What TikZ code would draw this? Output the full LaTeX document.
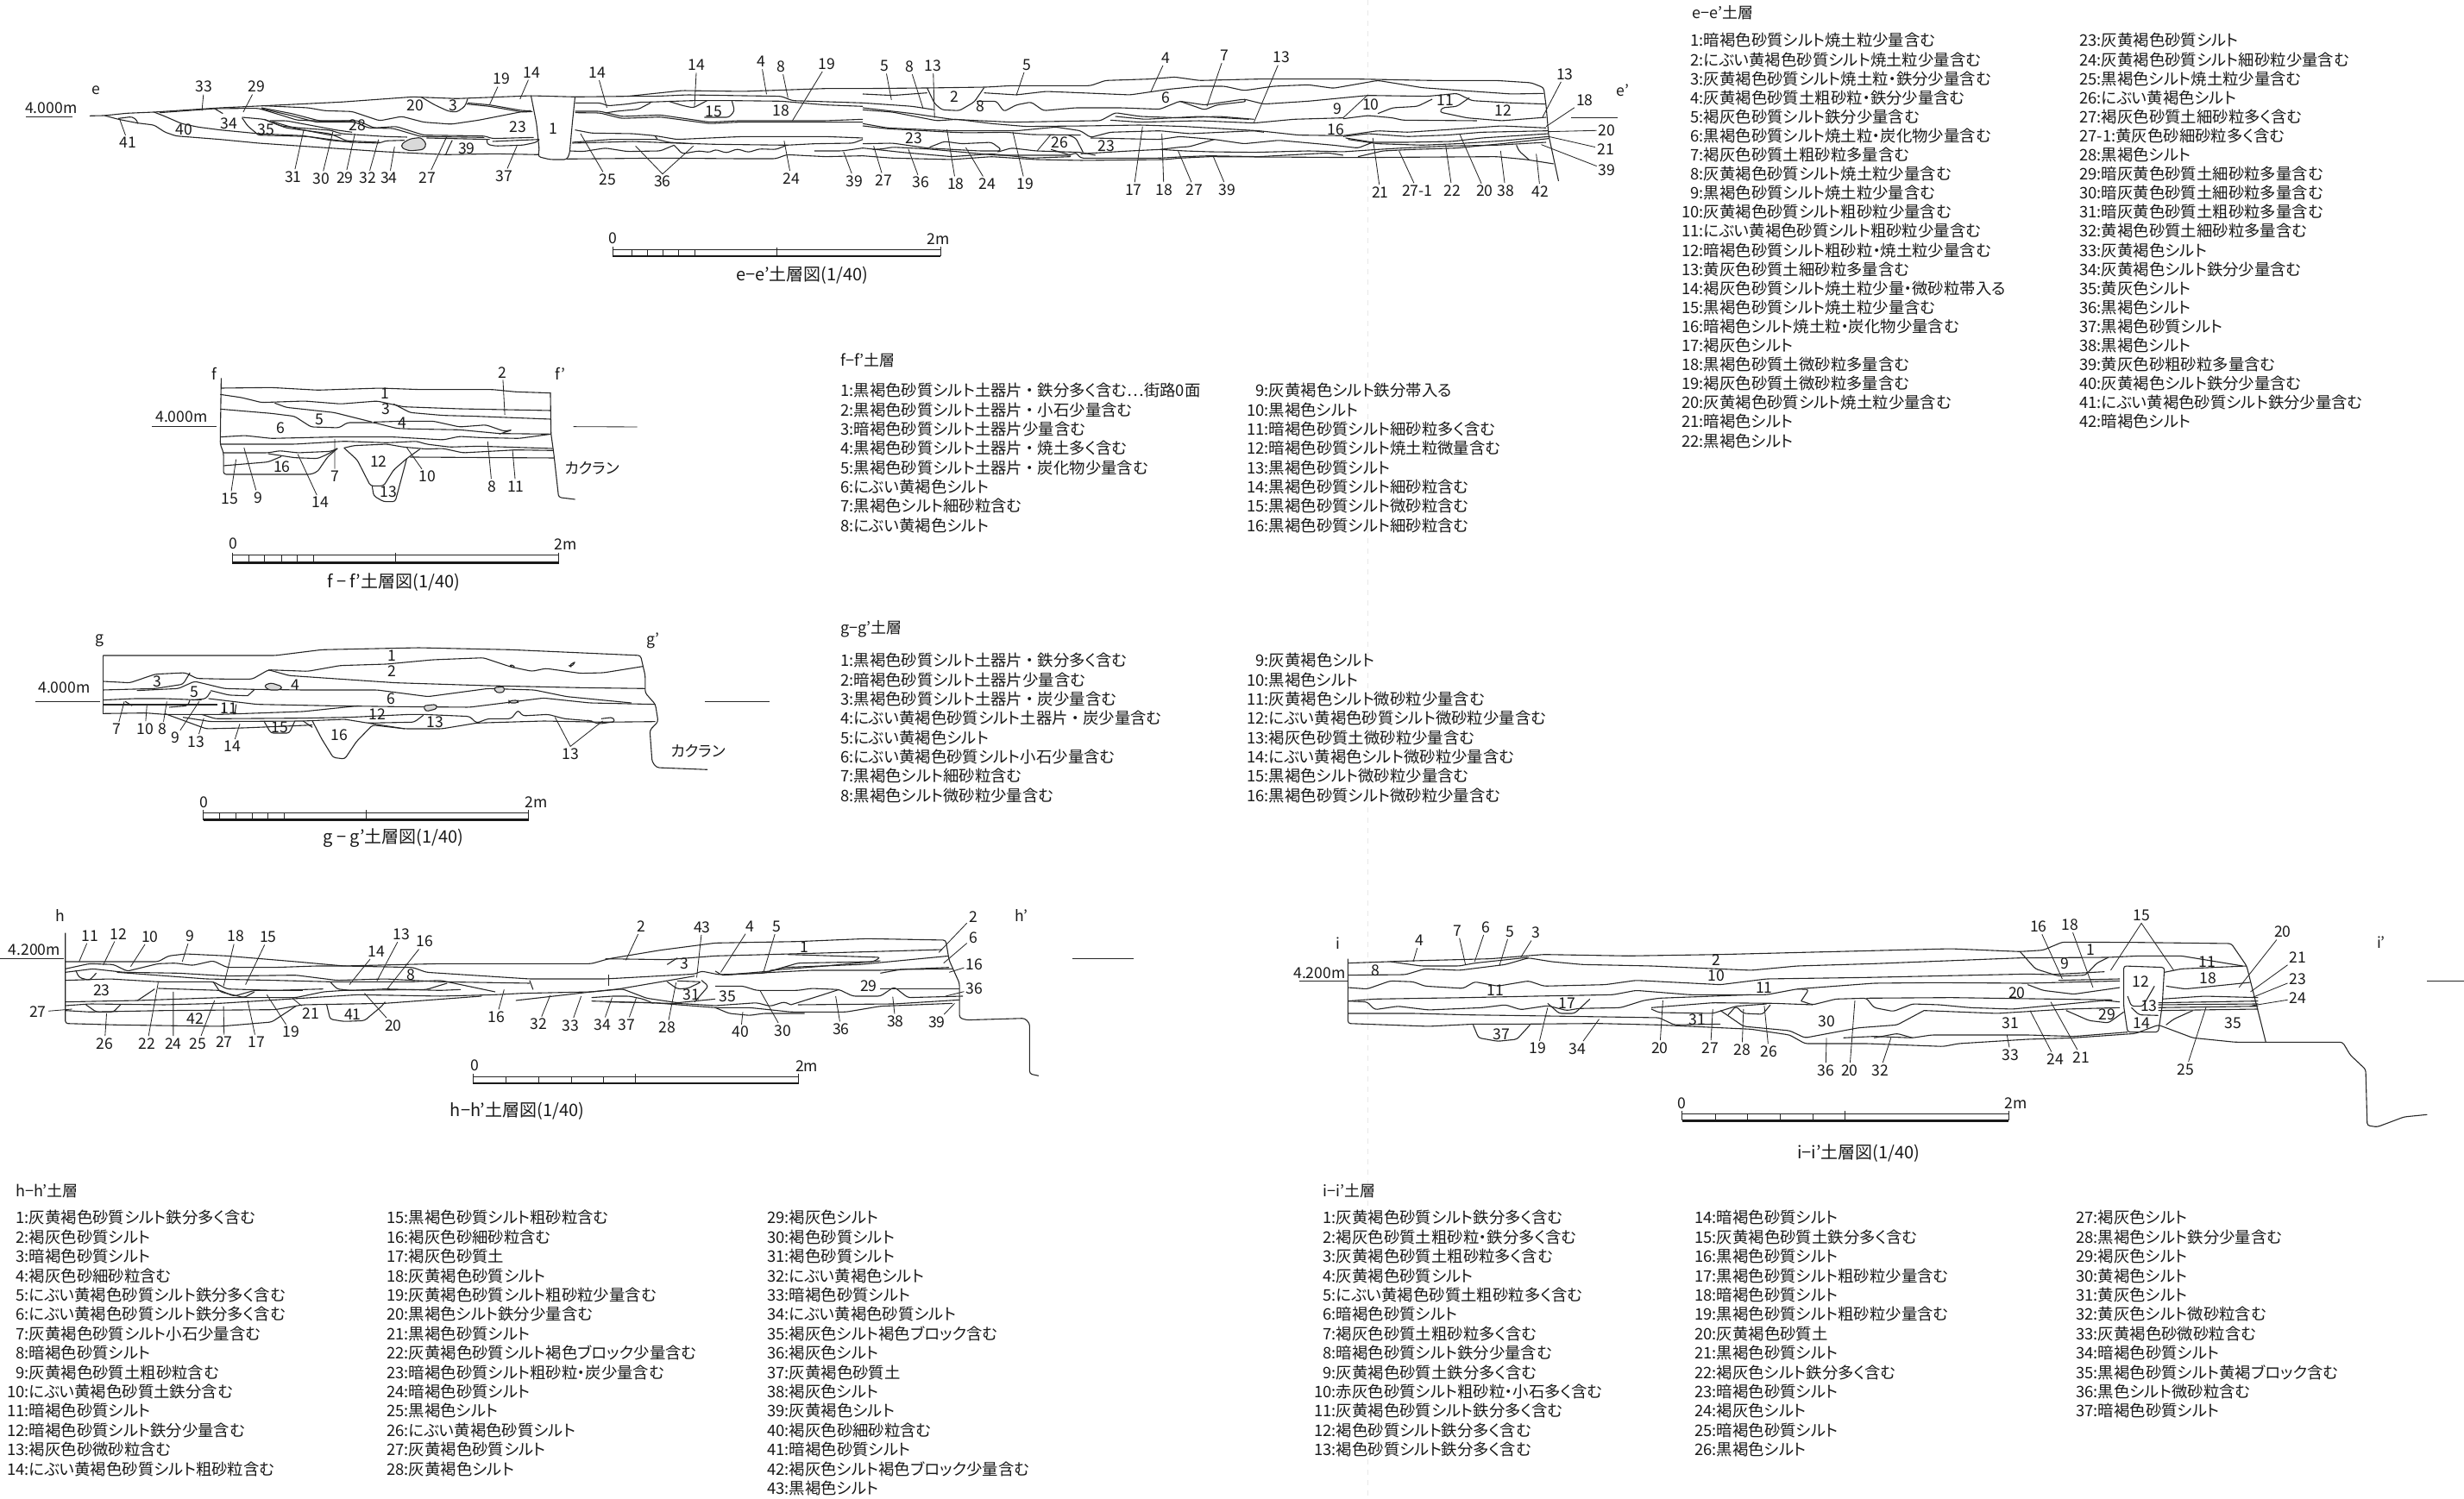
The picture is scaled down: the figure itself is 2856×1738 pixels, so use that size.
\documentclass[tikz,border=0pt]{standalone}
\usepackage{fontspec}
\setmainfont[RawFeature={+palt}]{Noto Sans CJK JP}
\newcommand{\pz}{\phantom{0}}
\begin{document}
\begin{tikzpicture}[x=0.5pt,y=-0.5pt]
      \tikzstyle{soil} = [line width=0.55pt, black!85, rounded corners=1.5pt, line join=round]
      \tikzstyle{leader} = [line width=0.42pt, black!85]
      \tikzstyle{rock} = [soil, fill=gray!30]
      \tikzstyle{num} = [font=\fontsize{8.8}{10}\selectfont, inner sep=1pt, black!90]
      \tikzstyle{heading} = [font=\fontsize{9}{11}\selectfont, inner sep=0pt, anchor=west, black!90]
      \tikzstyle{caption} = [font=\fontsize{10}{12}\selectfont, inner sep=0pt, black!90]
      \tikzstyle{layerlist} = [anchor=north west, inner sep=0pt, align=left, black!90]
      \tikzstyle{elegend} = [layerlist, font=\fontsize{9.2}{11.05}\selectfont]
      \tikzstyle{flegend} = [layerlist, font=\fontsize{9.2}{11.15}\selectfont]
      \tikzstyle{hlegend} = [layerlist, font=\fontsize{9.2}{11.2}\selectfont]
      \tikzstyle{scalethin} = [line width=0.45pt, black!85]
      \tikzstyle{scalethick} = [line width=1.3pt, black!90]
      \tikzstyle{fold} = [line width=0.4pt, gray!18, dashed]
      % coordinates below are read off at a different scale per drawing
      \tikzstyle{eleft} = [shift={(0,60)}, xscale=0.6378, yscale=0.3333]
      \tikzstyle{eright} = [shift={(1000,40)}, xscale=0.574, yscale=0.3333]
      \tikzstyle{fsec} = [shift={(150,400)}, xscale=0.3827, yscale=0.3333]
      \tikzstyle{gsec} = [shift={(30,710)}, xscale=0.5357, yscale=0.3333]
      \tikzstyle{hsec} = [shift={(0,1040)}, xscale=0.7972, yscale=0.3333]
      \tikzstyle{isec} = [shift={(1460,1040)}, xscale=0.8903, yscale=0.3333]

      \useasboundingbox (0,0) rectangle (2856,1738);
      \draw[fold] (1585,0) -- (1585,1738);

      % e-e' left
      \begin{scope}[eleft]
      \draw[soil] (163,223) -- (190,222) -- (230,214) -- (280,210) -- (400,195) -- (480,188) -- (620,175) -- (750,157) -- (830,163) -- (965,153) -- (1045,157) -- (1140,155) -- (1240,135) -- (1350,138) -- (1500,128) -- (1568,128);
      \draw[soil] (190,222) -- (215,235) -- (250,248) -- (280,255) -- (300,280) -- (320,293) -- (400,305) -- (470,318) -- (600,335) -- (700,348) -- (810,358) -- (900,355) -- (980,358);
      \draw[soil] (215,232) -- (240,226) -- (250,240) -- (250,248);
      \draw[soil] (280,210) -- (300,225) -- (330,250) -- (360,262) -- (400,272) -- (470,285) -- (550,292) -- (600,308) -- (640,315) -- (690,318) -- (700,310) -- (735,308);
      \draw[soil] (390,198) -- (405,215);
      \draw[soil] (290,212) -- (390,198) -- (440,197) -- (470,197) -- (510,220) -- (540,238) -- (600,242) -- (640,240);
      \draw[soil] (480,188) -- (560,195) -- (590,205) -- (640,208) -- (690,240) -- (730,225) -- (770,245) -- (820,252) -- (870,238) -- (950,208) -- (965,205);
      \draw[soil] (475,195) -- (530,215) -- (580,240) -- (650,240) -- (680,265) -- (720,260) -- (770,290) -- (880,293) -- (895,302) -- (970,298);
      \draw[soil] (475,198) -- (525,220) -- (575,245) -- (645,245) -- (670,265) -- (715,267) -- (765,295) -- (880,298);
      \draw[soil] (440,228) -- (480,235) -- (510,258) -- (545,265) -- (600,273) -- (620,285) -- (700,295) -- (740,297);
      \draw[soil] (490,240) -- (520,240) -- (610,272) -- (640,280);
      \draw[soil] (440,230) -- (450,258) -- (470,290);
      \draw[soil] (470,290) -- (560,295) -- (640,315);
      \draw[soil] (495,243) -- (540,268) -- (600,290) -- (620,290);
      \draw[soil] (480,235) -- (520,265) -- (600,285) -- (630,310) -- (690,315);
      \draw[rock] (730,320) -- (745,303) -- (765,298) -- (775,320) -- (770,340) -- (745,345) -- (730,335) -- cycle;
      \draw[soil] (775,300) -- (890,305);
      \draw[soil] (885,305) -- (885,322) -- (900,328) -- (950,325) -- (975,315) -- (980,305);
      \draw[soil] (895,312) -- (980,305);
      \draw[soil] (822,308) -- (815,335) -- (810,358);
      \draw[soil] (765,157) -- (790,185) -- (815,207) -- (830,210) -- (845,190) -- (850,163);
      \draw[soil] (850,178) -- (890,185) -- (950,205) -- (965,205);
      \draw[soil] (848,182) -- (890,190) -- (950,210) -- (968,208);
      \draw[soil] (965,153) -- (975,250) -- (980,340) -- (978,365) -- (1000,375) -- (1030,375) -- (1035,355) -- (1040,250) -- (1045,157);
      \draw[soil] (1045,178) -- (1090,178) -- (1105,188) -- (1140,182) -- (1165,175) -- (1185,175) -- (1160,200) -- (1120,207) -- (1100,213);
      \draw[soil] (1140,155) -- (1190,155) -- (1250,150) -- (1420,155) -- (1440,170) -- (1568,178);
      \draw[soil] (1180,175) -- (1260,170) -- (1330,170) -- (1420,172) -- (1500,185) -- (1568,190);
      \draw[soil] (1215,172) -- (1240,187) -- (1260,195) -- (1285,170);
      \draw[soil] (1330,170) -- (1335,205) -- (1325,228) -- (1280,228);
      \draw[soil] (1045,207) -- (1090,207) -- (1130,225) -- (1200,220) -- (1290,245) -- (1340,240) -- (1400,240) -- (1500,240) -- (1568,235);
      \draw[soil] (1045,212) -- (1090,213) -- (1130,232) -- (1200,227) -- (1290,250) -- (1340,245) -- (1440,245) -- (1568,245);
      \draw[soil] (1045,272) -- (1075,283) -- (1150,285) -- (1190,292) -- (1230,305) -- (1350,295) -- (1500,295) -- (1568,300);
      \draw[soil] (1040,318) -- (1150,312) -- (1230,318) -- (1300,322) -- (1430,325) -- (1480,320) -- (1550,318) -- (1568,305);
      \draw[soil] (1040,315) -- (1110,305) -- (1195,305) -- (1215,315) -- (1260,320);
      \draw[soil] (1190,292) -- (1195,305);
      \draw[soil] (1035,345) -- (1060,347) -- (1100,335) -- (1140,347) -- (1200,345) -- (1225,325);
      \draw[soil] (1225,325) -- (1240,355) -- (1270,345) -- (1290,350) -- (1300,340) -- (1320,352) -- (1340,338) -- (1360,350) -- (1380,338) -- (1410,340) -- (1430,325);
      \draw[soil] (1480,345) -- (1530,345) -- (1568,335);
      \draw[soil] (1030,373) -- (1200,370) -- (1340,372) -- (1410,372) -- (1430,358) -- (1500,365) -- (1568,362);

      \node[num] (ee) at (175,135) {e};
      \node[num] (e4000) at (93,195) {4.000m};
      \draw[leader] (47,227) -- (132,227);
      \node[num] (e20) at (755,187) {20};
      \node[num] (e3) at (823,187) {3};
      \node[num] (e28) at (650,255) {28};
      \node[num] (e34a) at (416,250) {34};
      \node[num] (e35) at (483,270) {35};
      \node[num] (e40) at (335,272) {40};
      \node[num] (e23a) at (941,263) {23};
      \node[num] (e1) at (1005,268) {1};
      \node[num] (e15) at (1297,207) {15};
      \node[num] (e18a) at (1420,205) {18};
      \node[num] (e39a) at (848,338) {39};
      \node[num] (e33) at (371,122) {33}; \draw[leader] (e33) -- (367,205);
      \node[num] (e29a) at (466,122) {29}; \draw[leader] (e29a) -- (442,210);
      \node[num] (e19a) at (911,95) {19}; \draw[leader] (e19a) -- (890,183);
      \node[num] (e14a) at (966,72) {14}; \draw[leader] (e14a) -- (945,165);
      \node[num] (e14b) at (1085,73) {14}; \draw[leader] (e14b) -- (1103,195);
      \node[num] (e14c) at (1266,47) {14}; \draw[leader] (e14c) -- (1262,193);
      \node[num] (e4a) at (1383,35) {4}; \draw[leader] (e4a) -- (1393,148);
      \node[num] (e8a) at (1420,52) {8}; \draw[leader] (e8a) -- (1432,160);
      \node[num] (e19b) at (1503,42) {19}; \draw[leader] (e19b) -- (1440,240);
      \node[num] (e41) at (233,317) {41}; \draw[leader] (e41) -- (217,232);
      \node[num] (e31) at (533,435) {31}; \draw[leader] (e31) -- (552,272);
      \node[num] (e30) at (584,442) {30}; \draw[leader] (e30) -- (605,278);
      \node[num] (e29b) at (627,438) {29}; \draw[leader] (e29b) -- (645,285);
      \node[num] (e32) at (668,440) {32}; \draw[leader] (e32) -- (688,305);
      \node[num] (e34b) at (707,440) {34}; \draw[leader] (e34b) -- (717,330);
      \node[num] (e27a) at (777,438) {27}; \draw[leader] (e27a) -- (812,295);
      \node[num] (e37) at (916,433) {37}; \draw[leader] (e37) -- (940,325);
      \node[num] (e25) at (1104,445) {25}; \draw[leader] (e25) -- (1055,285);
      \node[num] (e36a) at (1204,452) {36}; \draw[leader] (1155,328) -- (e36a.north) -- (1260,328);
      \node[num] (e24a) at (1438,440) {24}; \draw[leader] (e24a) -- (1425,310);
      \node[num] (e39b) at (1553,450) {39}; \draw[leader] (e39b) -- (1533,348);
      \end{scope}

      % e-e' right
      \begin{scope}[eright]
      \draw[soil] (0,188) -- (130,186) -- (250,183) -- (300,178) -- (460,178) -- (490,160) -- (580,155) -- (630,148) -- (680,160) -- (800,155) -- (1000,155) -- (1150,160) -- (1280,160) -- (1350,168) -- (1375,185) -- (1380,250) -- (1385,350) -- (1405,510);
      \draw[soil] (0,207) -- (60,212) -- (130,203);
      \draw[soil] (0,238) -- (60,245) -- (100,250) -- (145,262);
      \draw[soil] (130,186) -- (145,240) -- (160,262) -- (195,265) -- (225,235) -- (245,185);
      \draw[soil] (245,203) -- (310,210) -- (370,198) -- (470,205) -- (540,210) -- (620,190) -- (680,180) -- (730,180) -- (770,195) -- (830,180) -- (900,175) -- (950,187) -- (1040,160) -- (1130,185) -- (1210,195) -- (1310,207) -- (1375,205);
      \draw[soil] (230,232) -- (270,232) -- (285,268) -- (310,245) -- (340,235) -- (365,265) -- (430,255) -- (520,255) -- (600,260) -- (640,232) -- (690,245) -- (770,225) -- (810,242) -- (900,232) -- (1020,212) -- (1140,215) -- (1200,205) -- (1230,230) -- (1310,238) -- (1380,242);
      \draw[soil] (640,232) -- (690,262) -- (715,245) -- (775,233) -- (770,225);
      \draw[soil] (1150,225) -- (1120,250) -- (1070,255) -- (1040,275);
      \draw[soil] (1225,220) -- (1200,250) -- (1170,255) -- (1165,270) -- (1220,290) -- (1290,300) -- (1380,288);
      \draw[soil] (970,293) -- (1020,282) -- (1070,290) -- (1090,298) -- (1240,300);
      \draw[soil] (0,255) -- (100,275) -- (180,295) -- (300,305) -- (470,300) -- (480,300) -- (510,272) -- (560,285) -- (640,290) -- (720,285) -- (790,295);
      \draw[soil] (0,262) -- (60,270) -- (150,300) -- (190,295) -- (260,310) -- (330,320) -- (450,318) -- (560,315) -- (650,320) -- (800,335) -- (880,350) -- (970,352) -- (1040,335) -- (1100,340) -- (1190,330) -- (1290,318) -- (1380,325);
      \draw[soil] (500,298) -- (560,305) -- (680,300) -- (790,308) -- (870,295) -- (970,290);
      \draw[soil] (510,285) -- (570,295) -- (680,285) -- (780,295);
      \draw[soil] (0,310) -- (50,325) -- (180,335) -- (310,335) -- (390,322) -- (440,335) -- (460,358) -- (500,340) -- (600,335) -- (660,345) -- (790,335) -- (810,340);
      \draw[soil] (0,318) -- (50,328) -- (180,340) -- (210,342) -- (290,340) -- (340,348) -- (440,350);
      \draw[soil] (0,380) -- (60,378) -- (130,395) -- (235,405) -- (275,405);
      \draw[soil] (135,392) -- (165,372) -- (200,380) -- (260,375) -- (280,400) -- (270,410) -- (300,395) -- (350,405) -- (440,410) -- (470,420);
      \draw[soil] (20,400) -- (40,398) -- (60,392) -- (130,398) -- (270,420) -- (340,420) -- (420,420);
      \draw[soil] (380,400) -- (420,420) -- (430,410) -- (440,430) -- (520,430) -- (600,430) -- (650,425) -- (700,422) -- (800,425) -- (940,412) -- (970,420);
      \draw[soil] (415,350) -- (430,360) -- (445,410);
      \draw[soil] (0,422) -- (60,430) -- (180,435) -- (260,425) -- (350,435) -- (440,438) -- (610,435) -- (640,430) -- (700,425) -- (1000,428) -- (1280,425) -- (1340,435) -- (1395,450);
      \draw[soil] (0,395) -- (80,410) -- (180,425) -- (260,415) -- (340,430) -- (420,425);
      \draw[soil] (460,360) -- (600,365) -- (640,355) -- (710,365) -- (770,380) -- (840,368) -- (950,385) -- (1000,395) -- (1030,375);
      \draw[soil] (600,400) -- (640,392) -- (660,390) -- (710,365);
      \draw[soil] (440,415) -- (540,405) -- (600,400) -- (650,405) -- (700,408) -- (790,410) -- (900,405) -- (970,408) -- (1040,400) -- (1090,395) -- (1180,388) -- (1280,385) -- (1380,375);
      \draw[soil] (970,355) -- (1020,345) -- (1100,355) -- (1180,350) -- (1250,340) -- (1385,335);
      \draw[soil] (975,360) -- (1030,375) -- (1100,375) -- (1190,372) -- (1250,360) -- (1385,345);
      \draw[soil] (980,365) -- (1040,380) -- (1130,385) -- (1200,380) -- (1290,370) -- (1385,355);
      \draw[soil] (1000,425) -- (1050,405) -- (1110,400) -- (1200,395) -- (1290,380) -- (1385,362);
      \draw[soil] (1320,385) -- (1325,405) -- (1345,435);
      \draw[leader] (1430,289) -- (1525,289);
      \draw[leader] (1020,210) -- (970,290);

      \node[num] (e23b) at (103,360) {23};
      \node[num] (e2) at (186,215) {2};
      \node[num] (e6) at (613,220) {6};
      \node[num] (e8b) at (237,250) {8};
      \node[num] (e9) at (958,258) {9};
      \node[num] (e10) at (1026,245) {10};
      \node[num] (e11) at (1177,228) {11};
      \node[num] (e12) at (1293,265) {12};
      \node[num] (e16) at (955,330) {16};
      \node[num] (e23c) at (492,387) {23};
      \node[num] (e26) at (398,375) {26}; \draw[leader] (380,348) -- (352,405);
      \node[num] (ee2) at (1535,195) {e'};
      \node[num] (e5a) at (45,110) {5}; \draw[leader] (e5a) -- (58,228);
      \node[num] (e8c) at (95,112) {8}; \draw[leader] (e8c) -- (122,258);
      \node[num] (e13a) at (142,108) {13}; \draw[leader] (e13a) -- (145,290);
      \node[num] (e5b) at (331,105) {5}; \draw[leader] (e5b) -- (310,212);
      \node[num] (e4b) at (613,82) {4}; \draw[leader] (e4b) -- (582,198);
      \node[num] (e7) at (730,73) {7}; \draw[leader] (e7) -- (695,250);
      \node[num] (e13b) at (845,80) {13}; \draw[leader] (e13b) -- (790,305);
      \node[num] (e13c) at (1418,138) {13}; \draw[leader] (e13c) -- (1372,290);
      \node[num] (e18b) at (1458,230) {18}; \draw[leader] (e18b) -- (1380,320);
      \node[num] (e20a) at (1503,333) {20}; \draw[leader] (e20a) -- (1385,338);
      \node[num] (e21a) at (1500,400) {21}; \draw[leader] (e21a) -- (1385,355);
      \node[num] (e39c) at (1503,472) {39}; \draw[leader] (e39c) -- (1370,383);
      \node[num] (e27b) at (43,508) {27}; \draw[leader] (e27b) -- (22,388);
      \node[num] (e36b) at (117,515) {36}; \draw[leader] (e36b) -- (92,398);
      \node[num] (e18c) at (188,520) {18}; \draw[leader] (e18c) -- (170,330);
      \node[num] (e24b) at (252,520) {24}; \draw[leader] (e24b) -- (208,393);
      \node[num] (e19c) at (328,520) {19}; \draw[leader] (e19c) -- (303,338);
      \node[num] (e17) at (547,540) {17}; \draw[leader] (e17) -- (565,320);
      \node[num] (e18d) at (608,540) {18}; \draw[leader] (e18d) -- (604,345);
      \node[num] (e27c) at (670,540) {27}; \draw[leader] (e27c) -- (637,405);
      \node[num] (e39d) at (736,540) {39}; \draw[leader] (e39d) -- (708,425);
      \node[num] (e21b) at (1045,548) {21}; \draw[leader] (e21b) -- (1030,360);
      \node[num] (e271) at (1120,543) {27-1}; \draw[leader] (e271) -- (1083,405);
      \node[num] (e22) at (1190,542) {22}; \draw[leader] (e22) -- (1177,385);
      \node[num] (e20b) at (1256,545) {20}; \draw[leader] (e20b) -- (1205,345);
      \node[num] (e38) at (1298,543) {38}; \draw[leader] (e38) -- (1288,405);
      \node[num] (e42) at (1368,545) {42}; \draw[leader] (e42) -- (1360,415);
      \end{scope}

      % e-e' scale
      \draw[scalethin] (710,289) -- (1090,289) (732,289) -- (732,297) (750,289) -- (750,297) (768,289) -- (768,297) (786,289) -- (786,297) (805,289) -- (805,297) (900,287) -- (900,297) (710,286) -- (710,297) (1090,286) -- (1090,297);
      \draw[scalethick] (710,297) -- (1090,297);
      \node[num] (e0) at (710,276) {0};
      \node[num] (e2m) at (1088,277) {2m};
      \node[caption] (etitle) at (930,319) {e−e'土層図(1/40)};

      % f-f'
      \begin{scope}[fsec]
      \draw[soil] (278,115) -- (275,345) -- (285,375) -- (285,450) -- (550,450) -- (570,440) -- (600,390) -- (630,360);
      \draw[soil] (1275,165) -- (1277,310) -- (1285,375) -- (1300,530) -- (1350,537);
      \draw[soil] (278,150) -- (430,148) -- (570,157) -- (760,150) -- (880,155) -- (1100,155) -- (1170,163) -- (1275,167);
      \draw[soil] (275,172) -- (340,183) -- (400,200) -- (530,195) -- (640,205) -- (750,195) -- (830,215) -- (1000,222) -- (1275,228);
      \draw[soil] (440,202) -- (475,217) -- (620,235) -- (735,268);
      \draw[soil] (800,205) -- (850,235) -- (950,245) -- (1050,248) -- (1275,258);
      \draw[soil] (275,223) -- (430,238) -- (500,248) -- (550,285) -- (635,288) -- (660,270) -- (740,270) -- (810,290) -- (850,292) -- (1000,295) -- (1120,308) -- (1275,310);
      \draw[soil] (740,268) -- (830,265) -- (920,265) -- (1000,285) -- (1080,278) -- (1135,300) -- (1160,295) -- (1120,310);
      \draw[soil] (275,320) -- (350,315) -- (430,325) -- (620,320) -- (800,320) -- (950,330) -- (1000,318) -- (1060,322) -- (1180,325) -- (1277,310);
      \draw[soil] (275,345) -- (500,345) -- (650,335) -- (780,340) -- (870,335) -- (900,345) -- (970,355) -- (1060,352) -- (1282,360);
      \draw[soil] (650,358) -- (680,350) -- (780,345) -- (830,355) -- (900,362) -- (950,360) -- (1010,375) -- (1090,370) -- (1170,365) -- (1285,367);
      \draw[soil] (285,375) -- (420,375) -- (455,368) -- (510,375) -- (610,370) -- (630,360);
      \draw[soil] (420,378) -- (500,392) -- (570,395) -- (600,380) -- (630,360);
      \draw[soil] (285,420) -- (420,407) -- (460,388);
      \draw[soil] (650,358) -- (690,400) -- (730,490) -- (770,490) -- (800,435) -- (840,395) -- (880,362);
      \draw[soil] (735,490) -- (740,525) -- (770,545) -- (805,545) -- (840,395);
      \draw[soil] (850,390) -- (1285,393);
      \draw[leader] (68,284) -- (265,284);
      \draw[leader] (1345,284) -- (1538,285);
      \node[num] (ff) at (257,100) {f};
      \node[num] (ff2) at (1305,100) {f'};
      \node[num] (f4000) at (158,250) {4.000m};
      \node[num] (f1) at (775,170) {1};
      \node[num] (f3) at (777,222) {3};
      \node[num] (f4) at (826,272) {4};
      \node[num] (f5) at (575,260) {5};
      \node[num] (f6) at (458,290) {6};
      \node[num] (f12) at (755,405) {12};
      \node[num] (f13) at (785,510) {13};
      \node[num] (f16) at (462,425) {16};
      \node[num] (fkaku) at (1402,428) {カクラン};
      \node[num] (f2) at (1130,95) {2}; \draw[leader] (f2) -- (1137,243);
      \node[num] (f15) at (305,535) {15}; \draw[leader] (f15) -- (323,398);
      \node[num] (f9) at (390,532) {9}; \draw[leader] (f9) -- (347,357);
      \node[num] (f14) at (578,548) {14}; \draw[leader] (f14) -- (510,380);
      \node[num] (f7) at (622,457) {7}; \draw[leader] (f7) -- (622,327);
      \node[num] (f10) at (902,458) {10}; \draw[leader] (f10) -- (840,357);
      \node[num] (f8) at (1098,492) {8}; \draw[leader] (f8) -- (1085,335);
      \node[num] (f11) at (1170,492) {11}; \draw[leader] (f11) -- (1160,362);
      \draw[scalethin] (312,730) -- (1300,730) (362,730) -- (362,757) (410,730) -- (410,757) (460,730) -- (460,757) (508,730) -- (508,757) (558,730) -- (558,757) (805,722) -- (805,757) (312,722) -- (312,757) (1300,722) -- (1300,757);
      \draw[scalethick] (312,757) -- (1300,757);
      \node[num] (f0) at (315,692) {0};
      \node[num] (f2m) at (1322,692) {2m};
      \node[caption] (ftitle) at (800,825) {f − f'土層図(1/40)};
      \end{scope}

      % g-g'
      \begin{scope}[gsec]
      \draw[soil] (167,150) -- (167,355);
      \draw[soil] (167,150) -- (540,150) -- (640,130) -- (850,123) -- (1050,130) -- (1330,150) -- (1340,220) -- (1340,280) -- (1362,320) -- (1368,380) -- (1350,410) -- (1355,520) -- (1365,540) -- (1475,547);
      \draw[soil] (167,240) -- (225,245) -- (280,215) -- (345,210) -- (370,230) -- (430,232) -- (490,232) -- (525,200) -- (610,205) -- (680,185) -- (780,180) -- (880,165) -- (990,158) -- (1050,190) -- (1095,205) -- (1125,195) -- (1200,212) -- (1250,210) -- (1335,188);
      \draw[soil] (525,200) -- (570,220) -- (680,232) -- (800,245) -- (1000,255) -- (1200,262) -- (1340,265);
      \draw[soil] (355,210) -- (340,250) -- (280,265) -- (167,270);
      \draw[soil] (240,272) -- (330,265) -- (365,240) -- (430,265) -- (495,268) -- (600,270) -- (760,270) -- (870,293) -- (1000,265) -- (1100,270) -- (1170,293) -- (1310,315);
      \draw[soil] (480,290) -- (495,268);
      \draw[soil] (400,275) -- (390,300) -- (360,305);
      \draw[soil] (400,272) -- (440,288) -- (480,290);
      \draw[soil] (167,305) -- (235,300) -- (300,300) -- (380,305);
      \draw[soil] (395,300) -- (500,320) -- (660,325) -- (800,328) -- (960,330) -- (1120,298) -- (1220,315) -- (1362,320);
      \draw[soil] (167,320) -- (415,320);
      \draw[soil] (167,323) -- (415,323);
      \draw[soil] (215,310) -- (230,325);
      \draw[soil] (355,305) -- (350,325) -- (310,330);
      \draw[soil] (430,320) -- (428,352);
      \draw[soil] (455,320) -- (452,352);
      \draw[soil] (167,352) -- (260,350) -- (300,355) -- (420,355) -- (600,345) -- (720,325);
      \draw[soil] (380,355) -- (410,370) -- (600,368) -- (700,365) -- (830,355) -- (860,355) -- (960,362) -- (975,385) -- (1000,370) -- (1050,370) -- (1065,340) -- (1075,360) -- (1130,355) -- (1165,370) -- (1225,378);
      \draw[soil] (340,365) -- (400,380) -- (600,378) -- (690,372) -- (740,385) -- (840,382) -- (860,358);
      \draw[soil] (300,352) -- (390,405) -- (470,402) -- (620,392);
      \draw[soil] (740,385) -- (820,405) -- (900,405) -- (975,385) -- (1120,378) -- (1250,382) -- (1362,380);
      \draw[soil] (515,378) -- (530,420) -- (570,420) -- (582,378);
      \draw[soil] (620,378) -- (640,440) -- (665,505) -- (690,510) -- (715,450) -- (750,392) -- (820,405);
      \draw[soil] (600,378) -- (620,400);
      \draw[rock] (515,255) -- (530,245) -- (555,258) -- (550,270) -- (525,270) -- cycle;
      \draw[rock] (1012,262) -- (1035,258) -- (1035,278) -- (1018,280) -- cycle;
      \draw[rock] (860,325) -- (888,320) -- (890,335) -- (865,345) -- cycle;
      \draw[rock] (1045,308) -- (1065,305) -- (1065,315) -- (1045,315) -- cycle;
      \draw[soil] (1047,180) -- (1060,190) -- (1050,193) -- cycle;
      \draw[soil] (1175,185) -- (1190,170) -- (1180,190) -- cycle;
      \draw[soil] (1215,375) -- (1240,388) -- (1275,380) -- (1270,365) -- (1245,370);
      \draw[leader] (20,310) -- (160,310);
      \draw[leader] (1470,310) -- (1610,310);
      \node[num] (gg) at (160,98) {g};
      \node[num] (gg2) at (1357,98) {g'};
      \node[num] (g4000) at (83,263) {4.000m};
      \node[num] (g1) at (792,150) {1};
      \node[num] (g2) at (793,205) {2};
      \node[num] (g3) at (285,240) {3};
      \node[num] (g4) at (583,253) {4};
      \node[num] (g5) at (365,278) {5};
      \node[num] (g6) at (790,300) {6};
      \node[num] (g11) at (440,335) {11};
      \node[num] (g12) at (760,355) {12};
      \node[num] (g13a) at (885,383) {13};
      \node[num] (g15) at (550,400) {15};
      \node[num] (g16) at (678,428) {16};
      \node[num] (gkaku) at (1455,483) {カクラン};
      \node[num] (g7) at (197,407) {7}; \draw[leader] (g7) -- (213,310);
      \node[num] (g10) at (258,405) {10}; \draw[leader] (g10) -- (262,320);
      \node[num] (g8) at (295,407) {8}; \draw[leader] (g8) -- (305,310);
      \node[num] (g9) at (323,437) {9}; \draw[leader] (g9) -- (375,310);
      \node[num] (g13b) at (369,450) {13}; \draw[leader] (g13b) -- (385,368);
      \node[num] (g14) at (447,467) {14}; \draw[leader] (g14) -- (463,388);
      \node[num] (g13c) at (1178,493) {13}; \draw[leader] (1145,365) -- (g13c.north) -- (1248,378);
      \draw[scalethin] (384,697) -- (1088,697) (419,697) -- (419,722) (454,697) -- (454,722) (489,697) -- (489,722) (524,697) -- (524,722) (559,697) -- (559,722) (736,688) -- (736,722) (384,688) -- (384,722) (1088,688) -- (1088,722);
      \draw[scalethick] (384,722) -- (1088,722);
      \node[num] (g0) at (385,660) {0};
      \node[num] (g2m) at (1105,660) {2m};
      \node[caption] (gtitle) at (795,785) {g − g'土層図(1/40)};
      \end{scope}

      % h-h'
      \begin{scope}[hsec]
      \draw[soil] (95,125) -- (95,440) -- (170,445) -- (320,450) -- (395,435) -- (430,380);
      \draw[soil] (95,225) -- (230,225) -- (245,205) -- (270,198) -- (330,205) -- (430,225) -- (500,240) -- (640,232) -- (750,232) -- (860,232) -- (885,215) -- (960,185) -- (1040,160) -- (1160,155) -- (1260,145) -- (1375,150) -- (1380,220) -- (1395,300) -- (1395,420) -- (1405,428) -- (1490,422) -- (1497,440) -- (1497,615) -- (1510,622);
      \draw[soil] (95,250) -- (130,232) -- (165,235) -- (185,258) -- (230,232) -- (255,230) -- (280,238) -- (310,222) -- (330,245) -- (400,245) -- (460,240) -- (500,240) -- (600,245) -- (620,262) -- (770,285) -- (880,285) -- (1010,268) -- (1020,258) -- (1045,270) -- (1110,265) -- (1140,245) -- (1250,235) -- (1380,205);
      \draw[soil] (95,262) -- (135,250) -- (180,262) -- (260,265) -- (330,275) -- (430,272) -- (490,290) -- (560,285) -- (640,295) -- (770,300);
      \draw[soil] (880,215) -- (970,218) -- (1040,205) -- (1150,198) -- (1270,190) -- (1370,183);
      \draw[soil] (970,235) -- (985,212);
      \draw[soil] (1040,258) -- (1050,272) -- (1120,258) -- (1160,230) -- (1270,225) -- (1280,210) -- (1145,200);
      \draw[soil] (1120,255) -- (1200,240) -- (1280,222);
      \draw[soil] (1050,272) -- (1100,265) -- (1180,255) -- (1280,255) -- (1380,245);
      \draw[soil] (110,255) -- (115,280) -- (130,290) -- (140,265);
      \draw[soil] (95,290) -- (160,285) -- (230,295) -- (310,295) -- (330,320) -- (400,325) -- (470,320);
      \draw[soil] (170,262) -- (300,285) -- (400,290) -- (480,295) -- (600,295) -- (640,290) -- (720,330);
      \draw[soil] (230,318) -- (320,325) -- (340,345) -- (370,325) -- (440,325);
      \draw[soil] (310,295) -- (320,330) -- (355,350) -- (370,330);
      \draw[soil] (200,360) -- (225,320);
      \draw[soil] (95,365) -- (200,360) -- (320,350) -- (430,350) -- (470,330) -- (500,325) -- (620,322) -- (650,300);
      \draw[soil] (95,378) -- (130,372) -- (240,375) -- (320,370) -- (420,355) -- (520,340) -- (640,345) -- (720,340) -- (760,335) -- (860,330) -- (900,320) -- (1010,275);
      \draw[soil] (95,395) -- (130,400) -- (240,395) -- (400,392) -- (440,375) -- (560,370) -- (700,345);
      \draw[soil] (125,375) -- (140,400) -- (165,400) -- (175,375);
      \draw[soil] (475,375) -- (480,425) -- (500,433) -- (530,430) -- (555,380) -- (560,365);
      \draw[soil] (480,295) -- (490,320) -- (510,325) -- (560,320) -- (640,325) -- (670,322);
      \draw[soil] (770,290) -- (775,322);
      \draw[soil] (885,270) -- (885,310);
      \draw[soil] (750,360) -- (860,330) -- (905,320) -- (940,352) -- (985,368) -- (1040,355);
      \draw[soil] (970,295) -- (985,320) -- (1000,318) -- (1020,295) -- (985,292);
      \draw[soil] (1020,290) -- (1030,310) -- (1010,365);
      \draw[soil] (1040,310) -- (1080,310) -- (1100,325) -- (1160,325) -- (1180,318) -- (1220,322) -- (1240,345) -- (1280,345) -- (1300,313) -- (1320,350) -- (1400,345);
      \draw[soil] (1150,375) -- (1190,345) -- (1220,322);
      \draw[soil] (1160,375) -- (1300,372) -- (1395,358);
      \draw[soil] (860,362) -- (1000,372) -- (1040,378) -- (1100,368) -- (1120,380) -- (1140,365) -- (1150,375);
      \draw[soil] (880,365) -- (950,368) -- (1040,385) -- (1090,385) -- (1150,400) -- (1230,400) -- (1280,380) -- (1385,370);
      \draw[soil] (1040,385) -- (1060,405) -- (1090,412) -- (1110,405) -- (1170,405);
      \draw[soil] (860,350) -- (890,345) -- (915,345) -- (935,355) -- (950,370);
      \draw[soil] (1280,320) -- (1395,320);
      \draw[soil] (1280,265) -- (1310,252) -- (1385,250);
      \draw[leader] (0,215) -- (93,215);
      \draw[leader] (1559,215) -- (1648,215);
      \node[num] (hh) at (88,65) {h};
      \node[num] (hh2) at (1485,65) {h'};
      \node[num] (h4200) at (50,183) {4.200m};
      \node[num] (h23) at (148,325) {23};
      \node[num] (h8) at (597,270) {8};
      \node[num] (h3) at (995,232) {3};
      \node[num] (h1) at (1170,175) {1};
      \node[num] (h29) at (1263,310) {29};
      \node[num] (h31) at (1005,340) {31};
      \node[num] (h35) at (1058,345) {35};
      \node[num] (h41) at (513,408) {41};
      \node[num] (h42) at (284,423) {42};
      \node[num] (h11) at (131,135) {11}; \draw[leader] (h11) -- (115,225);
      \node[num] (h12) at (172,128) {12}; \draw[leader] (h12) -- (150,237);
      \node[num] (h10) at (218,138) {10}; \draw[leader] (h10) -- (190,242);
      \node[num] (h9) at (277,135) {9}; \draw[leader] (h9) -- (265,225);
      \node[num] (h18) at (343,137) {18}; \draw[leader] (h18) -- (325,310);
      \node[num] (h15) at (390,140) {15}; \draw[leader] (h15) -- (357,305);
      \node[num] (h14) at (547,190) {14}; \draw[leader] (h14) -- (508,305);
      \node[num] (h13) at (584,130) {13}; \draw[leader] (h13) -- (548,292);
      \node[num] (h16a) at (618,155) {16}; \draw[leader] (h16a) -- (563,320);
      \node[num] (h2a) at (933,103) {2}; \draw[leader] (h2a) -- (910,220);
      \node[num] (h43) at (1021,105) {43}; \draw[leader] (h43) -- (1013,280);
      \node[num] (h4) at (1091,102) {4}; \draw[leader] (h4) -- (1048,262);
      \node[num] (h5) at (1130,103) {5}; \draw[leader] (h5) -- (1110,262);
      \node[num] (h2b) at (1415,68) {2}; \draw[leader] (h2b) -- (1365,193);
      \node[num] (h6) at (1415,142) {6}; \draw[leader] (h6) -- (1372,230);
      \node[num] (h16b) at (1417,235) {16}; \draw[leader] (h16b) -- (1380,262);
      \node[num] (h36a) at (1417,320) {36}; \draw[leader] (h36a) -- (1375,345);
      \node[num] (h39) at (1362,435) {39}; \draw[leader] (h39) -- (1388,370);
      \node[num] (h27a) at (55,400) {27}; \draw[leader] (h27a) -- (105,390);
      \node[num] (h26) at (152,510) {26}; \draw[leader] (h26) -- (155,405);
      \node[num] (h22) at (214,510) {22}; \draw[leader] (h22) -- (230,298);
      \node[num] (h24) at (252,510) {24}; \draw[leader] (h24) -- (252,330);
      \node[num] (h25) at (288,510) {25}; \draw[leader] (h25) -- (312,360);
      \node[num] (h27b) at (326,505) {27}; \draw[leader] (h27b) -- (325,380);
      \node[num] (h17) at (373,505) {17}; \draw[leader] (h17) -- (360,360);
      \node[num] (h19) at (423,470) {19}; \draw[leader] (h19) -- (388,340);
      \node[num] (h21) at (452,405) {21}; \draw[leader] (h21) -- (425,352);
      \node[num] (h20) at (572,447) {20}; \draw[leader] (h20) -- (530,335);
      \node[num] (h16c) at (722,418) {16}; \draw[leader] (h16c) -- (733,322);
      \node[num] (h32) at (783,443) {32}; \draw[leader] (h32) -- (800,342);
      \node[num] (h33) at (830,447) {33}; \draw[leader] (h33) -- (845,345);
      \node[num] (h34) at (876,445) {34}; \draw[leader] (h34) -- (890,350);
      \node[num] (h37) at (911,445) {37}; \draw[leader] (h37) -- (925,352);
      \node[num] (h28) at (970,455) {28}; \draw[leader] (h28) -- (983,298);
      \node[num] (h40) at (1077,470) {40}; \draw[leader] (h40) -- (1080,400);
      \node[num] (h30) at (1138,465) {30}; \draw[leader] (h30) -- (1105,325);
      \node[num] (h36b) at (1223,460) {36}; \draw[leader] (h36b) -- (1215,345);
      \node[num] (h38) at (1302,433) {38}; \draw[leader] (h38) -- (1298,347);
      \draw[scalethin] (688,624) -- (1161,624) (736,624) -- (736,648) (783,624) -- (783,648) (831,624) -- (831,648) (878,624) -- (878,648) (924,615) -- (924,648) (688,615) -- (688,648) (1161,615) -- (1161,648);
      \draw[scalethick] (688,648) -- (1161,648);
      \node[num] (h0) at (690,587) {0};
      \node[num] (h2m) at (1173,587) {2m};
      \node[caption] (htitle) at (752,745) {h−h'土層図(1/40)};
      \end{scope}

      % i-i'
      \begin{scope}[isec]
      \draw[soil] (115,215) -- (115,440) -- (220,450) -- (280,442) -- (350,442) -- (440,440) -- (520,445) -- (640,460) -- (690,480) -- (710,510) -- (790,510) -- (890,520) -- (910,510) -- (1000,495) -- (1060,490) -- (1140,475) -- (1170,445) -- (1215,490) -- (1270,505) -- (1310,505) -- (1410,505) -- (1420,550) -- (1440,600) -- (1442,795) -- (1455,800) -- (1490,765) -- (1520,757);
      \draw[soil] (115,230) -- (200,222) -- (300,215) -- (370,200) -- (480,205) -- (600,200) -- (750,190) -- (900,180) -- (990,190) -- (1020,185) -- (1045,157) -- (1140,158) -- (1265,162) -- (1285,240) -- (1310,505);
      \draw[soil] (115,272) -- (190,270) -- (215,250) -- (260,255) -- (320,235) -- (350,212) -- (380,225) -- (420,235) -- (510,240) -- (640,255) -- (700,240) -- (800,232) -- (990,212) -- (1105,210) -- (1145,205) -- (1200,205) -- (1280,240);
      \draw[soil] (170,225) -- (210,240) -- (260,240) -- (280,230) -- (350,210);
      \draw[soil] (115,315) -- (140,320) -- (170,292) -- (200,295) -- (215,310) -- (265,318) -- (280,295) -- (310,310) -- (350,292) -- (370,310) -- (450,305) -- (490,290) -- (600,305) -- (660,285) -- (790,280) -- (1000,268) -- (1030,270) -- (1100,260);
      \draw[soil] (990,190) -- (1010,250) -- (1040,275) -- (1075,272) -- (1090,230) -- (1105,210);
      \draw[soil] (700,320) -- (800,300) -- (880,298) -- (1000,300) -- (1120,292);
      \draw[soil] (1040,290) -- (1120,285);
      \draw[soil] (1000,305) -- (1020,325) -- (1060,338) -- (1120,315);
      \draw[soil] (115,362) -- (150,355) -- (270,350) -- (360,345) -- (460,340) -- (490,325) -- (560,340) -- (660,340) -- (700,320) -- (715,322) -- (705,362);
      \draw[soil] (115,362) -- (140,365) -- (150,392) -- (180,380) -- (220,393) -- (290,385) -- (320,375) -- (340,392) -- (375,378) -- (400,395) -- (415,388) -- (470,385) -- (500,360) -- (520,352) -- (640,340);
      \draw[soil] (375,370) -- (390,405) -- (410,405) -- (430,355);
      \draw[soil] (115,405) -- (200,405) -- (270,410) -- (400,415) -- (520,420) -- (540,445) -- (600,442);
      \draw[soil] (510,385) -- (590,368) -- (670,370) -- (720,375);
      \draw[soil] (510,390) -- (520,402) -- (590,405) -- (620,380) -- (660,372);
      \draw[soil] (610,410) -- (620,380) -- (630,405) -- (655,408) -- (665,375);
      \draw[soil] (600,395) -- (630,450) -- (690,465) -- (710,490) -- (780,455) -- (830,445) -- (865,395);
      \draw[soil] (705,362) -- (720,375) -- (750,355) -- (790,352) -- (800,385) -- (825,398) -- (850,372) -- (885,375) -- (925,385) -- (980,390) -- (1100,360) -- (1120,365);
      \draw[soil] (790,352) -- (900,350) -- (1110,358);
      \draw[soil] (865,395) -- (960,405) -- (1050,390) -- (1120,385);
      \draw[soil] (1050,395) -- (1080,430) -- (1105,438) -- (1125,400);
      \draw[soil] (760,490) -- (800,485) -- (850,490) -- (875,480) -- (1000,480) -- (1060,485) -- (1130,470);
      \draw[soil] (800,490) -- (830,475) -- (850,490);
      \draw[soil] (278,445) -- (285,490) -- (310,502) -- (335,495) -- (352,445);
      \draw[soil] (1125,240) -- (1125,380) -- (1130,470) -- (1170,470) -- (1175,380) -- (1178,245) -- cycle;
      \draw[soil] (1130,345) -- (1135,380) -- (1150,380) -- (1165,310);
      \draw[soil] (1135,385) -- (1145,410) -- (1170,412);
      \draw[soil] (1178,262) -- (1200,250) -- (1285,240);
      \draw[soil] (1180,310) -- (1205,320) -- (1250,308) -- (1290,297);
      \draw[soil] (1175,355) -- (1230,345) -- (1300,350);
      \draw[soil] (1170,368) -- (1300,362);
      \draw[soil] (1170,375) -- (1300,372);
      \draw[soil] (1170,385) -- (1300,380);
      \draw[soil] (1170,395) -- (1300,390);
      \draw[soil] (1180,445) -- (1190,425) -- (1215,395);
      \draw[leader] (52,293) -- (115,293);
      \draw[leader] (1520,293) -- (1568,293);
      \node[num] (ii) at (102,160) {i};
      \node[num] (ii2) at (1460,158) {i'};
      \node[num] (i4200) at (78,265) {4.200m};
      \node[num] (i8) at (151,255) {8};
      \node[num] (i2) at (595,220) {2};
      \node[num] (i10) at (595,275) {10};
      \node[num] (i11a) at (307,325) {11};
      \node[num] (i11b) at (657,315) {11};
      \node[num] (i17) at (400,370) {17};
      \node[num] (i1) at (1082,185) {1};
      \node[num] (i9) at (1048,232) {9};
      \node[num] (i30) at (738,433) {30};
      \node[num] (i31a) at (570,428) {31};
      \node[num] (i31b) at (978,440) {31};
      \node[num] (i20a) at (986,333) {20};
      \node[num] (i12) at (1147,295) {12};
      \node[num] (i13) at (1158,380) {13};
      \node[num] (i14) at (1148,438) {14};
      \node[num] (i29) at (1103,410) {29};
      \node[num] (i11c) at (1234,225) {11};
      \node[num] (i18a) at (1235,283) {18};
      \node[num] (i35) at (1267,438) {35};
      \node[num] (i37) at (315,478) {37};
      \node[num] (i4) at (208,152) {4}; \draw[leader] (i4) -- (200,225);
      \node[num] (i7) at (258,117) {7}; \draw[leader] (i7) -- (268,235);
      \node[num] (i6) at (295,105) {6}; \draw[leader] (i6) -- (280,225);
      \node[num] (i5) at (326,120) {5}; \draw[leader] (i5) -- (312,240);
      \node[num] (i3) at (360,125) {3}; \draw[leader] (i3) -- (340,210);
      \node[num] (i16) at (1014,103) {16}; \draw[leader] (i16) -- (1045,285);
      \node[num] (i18b) at (1055,97) {18}; \draw[leader] (i18b) -- (1085,315);
      \node[num] (i15) at (1148,65) {15}; \draw[leader] (1108,255) -- (i15.south) -- (1190,255);
      \node[num] (i20b) at (1332,122) {20}; \draw[leader] (i20b) -- (1275,315);
      \node[num] (i21a) at (1352,210) {21}; \draw[leader] (i21a) -- (1290,330);
      \node[num] (i23) at (1352,285) {23}; \draw[leader] (i23) -- (1292,350);
      \node[num] (i24a) at (1352,352) {24}; \draw[leader] (i24a) -- (1292,378);
      \node[num] (i19) at (362,527) {19}; \draw[leader] (i19) -- (375,385);
      \node[num] (i34) at (414,528) {34}; \draw[leader] (i34) -- (442,425);
      \node[num] (i20c) at (521,525) {20}; \draw[leader] (i20c) -- (525,360);
      \node[num] (i27) at (587,525) {27}; \draw[leader] (i27) -- (590,390);
      \node[num] (i28) at (628,532) {28}; \draw[leader] (i28) -- (630,390);
      \node[num] (i26) at (663,537) {26}; \draw[leader] (i26) -- (657,378);
      \node[num] (i36) at (737,603) {36}; \draw[leader] (i36) -- (738,490);
      \node[num] (i20d) at (768,603) {20}; \draw[leader] (i20d) -- (775,360);
      \node[num] (i32) at (808,603) {32}; \draw[leader] (i32) -- (822,490);
      \node[num] (i33) at (978,550) {33}; \draw[leader] (i33) -- (973,480);
      \node[num] (i24b) at (1036,565) {24}; \draw[leader] (i24b) -- (1003,395);
      \node[num] (i21b) at (1070,557) {21}; \draw[leader] (i21b) -- (1030,365);
      \node[num] (i25) at (1206,600) {25}; \draw[leader] (i25) -- (1232,385);
      \draw[scalethin] (550,753) -- (975,753) (593,753) -- (593,778) (635,753) -- (635,778) (678,753) -- (678,778) (720,753) -- (720,778) (762,744) -- (762,778) (550,744) -- (550,778) (975,744) -- (975,778);
      \draw[scalethick] (550,778) -- (975,778);
      \node[num] (i0) at (550,717) {0};
      \node[num] (i2m) at (985,717) {2m};
      \node[caption] (ititle) at (780,890) {i−i'土層図(1/40)};
      \end{scope}

      % layer lists
      \node[heading] (ehead) at (1961,15) {e−e'土層};
      \node[elegend] (elista) at (1949,38) {\pz 1:暗褐色砂質シルト焼土粒少量含む\\ \pz 2:にぶい黄褐色砂質シルト焼土粒少量含む\\ \pz 3:灰黄褐色砂質シルト焼土粒・鉄分少量含む\\ \pz 4:灰黄褐色砂質土粗砂粒・鉄分少量含む\\ \pz 5:褐灰色砂質シルト鉄分少量含む\\ \pz 6:黒褐色砂質シルト焼土粒・炭化物少量含む\\ \pz 7:褐灰色砂質土粗砂粒多量含む\\ \pz 8:灰黄褐色砂質シルト焼土粒少量含む\\ \pz 9:黒褐色砂質シルト焼土粒少量含む\\ 10:灰黄褐色砂質シルト粗砂粒少量含む\\ 11:にぶい黄褐色砂質シルト粗砂粒少量含む\\ 12:暗褐色砂質シルト粗砂粒・焼土粒少量含む\\ 13:黄灰色砂質土細砂粒多量含む\\ 14:褐灰色砂質シルト焼土粒少量・微砂粒帯入る\\ 15:黒褐色砂質シルト焼土粒少量含む\\ 16:暗褐色シルト焼土粒・炭化物少量含む\\ 17:褐灰色シルト\\ 18:黒褐色砂質土微砂粒多量含む\\ 19:褐灰色砂質土微砂粒多量含む\\ 20:灰黄褐色砂質シルト焼土粒少量含む\\ 21:暗褐色シルト\\ 22:黒褐色シルト};
      \node[elegend] (elistb) at (2410,38) {23:灰黄褐色砂質シルト\\ 24:灰黄褐色砂質シルト細砂粒少量含む\\ 25:黒褐色シルト焼土粒少量含む\\ 26:にぶい黄褐色シルト\\ 27:褐灰色砂質土細砂粒多く含む\\ 27-1:黄灰色砂細砂粒多く含む\\ 28:黒褐色シルト\\ 29:暗灰黄色砂質土細砂粒多量含む\\ 30:暗灰黄色砂質土細砂粒多量含む\\ 31:暗灰黄色砂質土粗砂粒多量含む\\ 32:黄褐色砂質土細砂粒多量含む\\ 33:灰黄褐色シルト\\ 34:灰黄褐色シルト鉄分少量含む\\ 35:黄灰色シルト\\ 36:黒褐色シルト\\ 37:黒褐色砂質シルト\\ 38:黒褐色シルト\\ 39:黄灰色砂粗砂粒多量含む\\ 40:灰黄褐色シルト鉄分少量含む\\ 41:にぶい黄褐色砂質シルト鉄分少量含む\\ 42:暗褐色シルト};

      \node[heading] (fhead) at (974,418) {f−f'土層};
      \node[flegend] (flista) at (974,444) {1:黒褐色砂質シルト土器片 ・ 鉄分多く含む…街路0面\\ 2:黒褐色砂質シルト土器片 ・ 小石少量含む\\ 3:暗褐色砂質シルト土器片少量含む\\ 4:黒褐色砂質シルト土器片 ・ 焼土多く含む\\ 5:黒褐色砂質シルト土器片 ・ 炭化物少量含む\\ 6:にぶい黄褐色シルト\\ 7:黒褐色シルト細砂粒含む\\ 8:にぶい黄褐色シルト};
      \node[flegend] (flistb) at (1445,444) {\pz 9:灰黄褐色シルト鉄分帯入る\\ 10:黒褐色シルト\\ 11:暗褐色砂質シルト細砂粒多く含む\\ 12:暗褐色砂質シルト焼土粒微量含む\\ 13:黒褐色砂質シルト\\ 14:黒褐色砂質シルト細砂粒含む\\ 15:黒褐色砂質シルト微砂粒含む\\ 16:黒褐色砂質シルト細砂粒含む};

      \node[heading] (ghead) at (974,729) {g−g'土層};
      \node[flegend] (glista) at (974,757) {1:黒褐色砂質シルト土器片 ・ 鉄分多く含む\\ 2:暗褐色砂質シルト土器片少量含む\\ 3:黒褐色砂質シルト土器片 ・ 炭少量含む\\ 4:にぶい黄褐色砂質シルト土器片 ・ 炭少量含む\\ 5:にぶい黄褐色シルト\\ 6:にぶい黄褐色砂質シルト小石少量含む\\ 7:黒褐色シルト細砂粒含む\\ 8:黒褐色シルト微砂粒少量含む};
      \node[flegend] (glistb) at (1445,757) {\pz 9:灰黄褐色シルト\\ 10:黒褐色シルト\\ 11:灰黄褐色シルト微砂粒少量含む\\ 12:にぶい黄褐色砂質シルト微砂粒少量含む\\ 13:褐灰色砂質土微砂粒少量含む\\ 14:にぶい黄褐色シルト微砂粒少量含む\\ 15:黒褐色シルト微砂粒少量含む\\ 16:黒褐色砂質シルト微砂粒少量含む};

      \node[heading] (hhead) at (18,1381) {h−h'土層};
      \node[hlegend] (hlista) at (8,1403) {\pz 1:灰黄褐色砂質シルト鉄分多く含む\\ \pz 2:褐灰色砂質シルト\\ \pz 3:暗褐色砂質シルト\\ \pz 4:褐灰色砂細砂粒含む\\ \pz 5:にぶい黄褐色砂質シルト鉄分多く含む\\ \pz 6:にぶい黄褐色砂質シルト鉄分多く含む\\ \pz 7:灰黄褐色砂質シルト小石少量含む\\ \pz 8:暗褐色砂質シルト\\ \pz 9:灰黄褐色砂質土粗砂粒含む\\ 10:にぶい黄褐色砂質土鉄分含む\\ 11:暗褐色砂質シルト\\ 12:暗褐色砂質シルト鉄分少量含む\\ 13:褐灰色砂微砂粒含む\\ 14:にぶい黄褐色砂質シルト粗砂粒含む};
      \node[hlegend] (hlistb) at (448,1403) {15:黒褐色砂質シルト粗砂粒含む\\ 16:褐灰色砂細砂粒含む\\ 17:褐灰色砂質土\\ 18:灰黄褐色砂質シルト\\ 19:灰黄褐色砂質シルト粗砂粒少量含む\\ 20:黒褐色シルト鉄分少量含む\\ 21:黒褐色砂質シルト\\ 22:灰黄褐色砂質シルト褐色ブロック少量含む\\ 23:暗褐色砂質シルト粗砂粒・炭少量含む\\ 24:暗褐色砂質シルト\\ 25:黒褐色シルト\\ 26:にぶい黄褐色砂質シルト\\ 27:灰黄褐色砂質シルト\\ 28:灰黄褐色シルト};
      \node[hlegend] (hlistc) at (889,1403) {29:褐灰色シルト\\ 30:褐色砂質シルト\\ 31:褐色砂質シルト\\ 32:にぶい黄褐色シルト\\ 33:暗褐色砂質シルト\\ 34:にぶい黄褐色砂質シルト\\ 35:褐灰色シルト褐色ブロック含む\\ 36:褐灰色シルト\\ 37:灰黄褐色砂質土\\ 38:褐灰色シルト\\ 39:灰黄褐色シルト\\ 40:褐灰色砂細砂粒含む\\ 41:暗褐色砂質シルト\\ 42:褐灰色シルト褐色ブロック少量含む\\ 43:黒褐色シルト};

      \node[heading] (ihead) at (1533,1381) {i−i'土層};
      \node[hlegend] (ilista) at (1523,1403) {\pz 1:灰黄褐色砂質シルト鉄分多く含む\\ \pz 2:褐灰色砂質土粗砂粒・鉄分多く含む\\ \pz 3:灰黄褐色砂質土粗砂粒多く含む\\ \pz 4:灰黄褐色砂質シルト\\ \pz 5:にぶい黄褐色砂質土粗砂粒多く含む\\ \pz 6:暗褐色砂質シルト\\ \pz 7:褐灰色砂質土粗砂粒多く含む\\ \pz 8:暗褐色砂質シルト鉄分少量含む\\ \pz 9:灰黄褐色砂質土鉄分多く含む\\ 10:赤灰色砂質シルト粗砂粒・小石多く含む\\ 11:灰黄褐色砂質シルト鉄分多く含む\\ 12:褐色砂質シルト鉄分多く含む\\ 13:褐色砂質シルト鉄分多く含む};
      \node[hlegend] (ilistb) at (1964,1403) {14:暗褐色砂質シルト\\ 15:灰黄褐色砂質土鉄分多く含む\\ 16:黒褐色砂質シルト\\ 17:黒褐色砂質シルト粗砂粒少量含む\\ 18:暗褐色砂質シルト\\ 19:黒褐色砂質シルト粗砂粒少量含む\\ 20:灰黄褐色砂質土\\ 21:黒褐色砂質シルト\\ 22:褐灰色シルト鉄分多く含む\\ 23:暗褐色砂質シルト\\ 24:褐灰色シルト\\ 25:暗褐色砂質シルト\\ 26:黒褐色シルト};
      \node[hlegend] (ilistc) at (2406,1403) {27:褐灰色シルト\\ 28:黒褐色シルト鉄分少量含む\\ 29:褐灰色シルト\\ 30:黄褐色シルト\\ 31:黄灰色シルト\\ 32:黄灰色シルト微砂粒含む\\ 33:灰黄褐色砂微砂粒含む\\ 34:暗褐色砂質シルト\\ 35:黒褐色砂質シルト黄褐ブロック含む\\ 36:黒色シルト微砂粒含む\\ 37:暗褐色砂質シルト};
    \end{tikzpicture}
\end{document}
